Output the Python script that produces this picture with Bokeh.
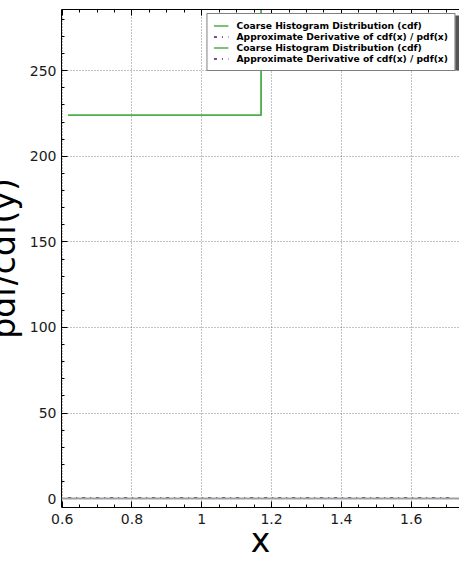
import numpy as np
from bokeh.plotting import figure
from bokeh.models import (Range1d, LinearAxis, Legend, LegendItem, Span,
                          BoxAnnotation, FixedTicker)
from bokeh.embed import file_html
from bokeh.resources import INLINE

# ---- data ----
cdf_x = [0.617, 1.170, 1.723]
cdf_y = [224, 448, 448]
pdf_x = [0.617, 0.755, 0.894, 1.032, 1.170, 1.308, 1.447, 1.585, 1.710]
pdf_y = [0.3, 0.3, 0.3, 0.3, 0.3, 0.3, 0.3, 0.3, 0.3]
x_ticks = [0.6, 0.8, 1.0, 1.2, 1.4, 1.6]
x_tick_labels = {0.6: "0.6", 0.8: "0.8", 1.0: "1", 1.2: "1.2", 1.4: "1.4", 1.6: "1.6"}
y_ticks = [0, 50, 100, 150, 200, 250]
label_cdf = "Coarse Histogram Distribution (cdf)"
label_pdf = "Approximate Derivative of cdf(x) / pdf(x)"
x_label = "x"
y_label = "pdf/cdf(y)"

GREEN = "#4daf4a"
PURPLE = "#4b1a6b"
FONT = "DejaVu Sans"

SHIFT = 25
p = figure(width=459 + SHIFT, height=562, output_backend="svg", toolbar_location=None,
           x_range=Range1d(0.598, 1.7384), y_range=Range1d(-5.2, 285.8),
           min_border_left=61 + SHIFT, min_border_right=0, min_border_top=9,
           min_border_bottom=55, x_axis_location=None, y_axis_location=None,
           styles={"margin-left": f"-{SHIFT}px"})
p.outline_line_color = None
p.background_fill_color = "white"
p.border_fill_color = "white"

xminor = np.round(np.arange(0.6, 1.75, 0.05), 3).tolist()
yminor = list(range(0, 290, 10))

def style_axis(ax, show_labels=True):
    ax.axis_line_color = "black"
    ax.axis_line_width = 1
    ax.major_tick_in = 6
    ax.major_tick_out = 0
    ax.minor_tick_in = 3
    ax.minor_tick_out = 0
    ax.major_tick_line_color = "black"
    ax.minor_tick_line_color = "black"
    if show_labels:
        ax.major_label_text_font = FONT
        ax.major_label_text_font_size = "14px"
        ax.major_label_text_color = "#1a1a1a"
    else:
        ax.major_label_text_font_size = "1px"
        ax.major_label_text_color = None
        ax.major_label_standoff = 0

xb = LinearAxis(ticker=FixedTicker(ticks=x_ticks, minor_ticks=xminor),
                major_label_overrides=x_tick_labels)
style_axis(xb)
xb.major_label_standoff = 6
xb.axis_label = x_label
xb.axis_label_text_font = FONT
xb.axis_label_text_font_size = "33px"
xb.axis_label_text_font_style = "normal"
xb.axis_label_text_color = "black"
xb.axis_label_standoff = -6
p.add_layout(xb, "below")

xt = LinearAxis(ticker=FixedTicker(ticks=x_ticks, minor_ticks=xminor))
style_axis(xt, show_labels=False)
p.add_layout(xt, "above")

yl = LinearAxis(ticker=FixedTicker(ticks=y_ticks, minor_ticks=yminor))
style_axis(yl)
yl.major_label_standoff = 5
yl.axis_label = y_label
yl.axis_label_text_font = FONT
yl.axis_label_text_font_size = "33px"
yl.axis_label_text_font_style = "normal"
yl.axis_label_text_color = "black"
yl.axis_label_standoff = 4
p.add_layout(yl, "left")

p.xgrid.ticker = FixedTicker(ticks=x_ticks)
p.ygrid.ticker = FixedTicker(ticks=y_ticks)
for g in (p.xgrid, p.ygrid):
    g.grid_line_color = "black"
    g.grid_line_width = 0.6
    g.grid_line_dash = "1 2"
    g.grid_line_alpha = 0.8

p.add_layout(Span(location=0, dimension="width", line_color="#a0a0a0", line_width=2))

g1 = p.step(cdf_x, cdf_y, mode="after", line_color=GREEN, line_width=1.5)
d1 = p.line(pdf_x, pdf_y, line_color=PURPLE, line_width=1.5, line_dash="3 5 1 5")
g2 = p.step(cdf_x, cdf_y, mode="after", line_color=GREEN, line_width=1.5)
d2 = p.line(pdf_x, pdf_y, line_color=PURPLE, line_width=1.5, line_dash="3 5 1 5")

# legend shadow
p.add_layout(BoxAnnotation(left=1.022, right=1.7384, top=282.3, bottom=250.2,
                           fill_color="#555555", fill_alpha=1.0, line_color=None,
                           level="overlay"))

legend = Legend(items=[LegendItem(label=label_cdf, renderers=[g1]),
                       LegendItem(label=label_pdf, renderers=[d1]),
                       LegendItem(label=label_cdf, renderers=[g2]),
                       LegendItem(label=label_pdf, renderers=[d2])],
                location="top_right", margin=4, padding=6, spacing=0,
                glyph_width=15, glyph_height=9, label_height=9, label_standoff=8,
                label_text_font=FONT, label_text_font_size="9.2px",
                label_text_font_style="bold", label_text_color="black",
                border_line_color="black", border_line_width=1,
                background_fill_color="white", background_fill_alpha=1.0)
p.add_layout(legend)

open("out.html", "w").write(file_html(p, INLINE))
